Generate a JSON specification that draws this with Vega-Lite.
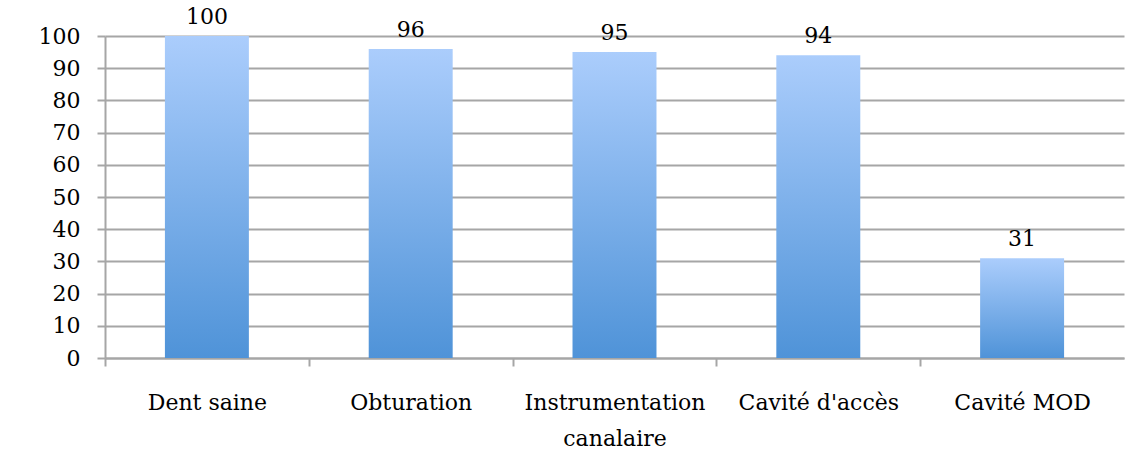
{
  "$schema": "https://vega.github.io/schema/vega-lite/v6.json",
  "width": 1019,
  "height": 322,
  "autosize": {"type": "none"},
  "padding": {"left": 105, "top": 36, "right": 23, "bottom": 114},
  "background": "white",
  "config": {
    "view": {"stroke": null},
    "font": "DejaVu Serif"
  },
  "data": {
    "values": [
      {"categorie": "Dent saine", "valeur": 100},
      {"categorie": "Obturation", "valeur": 96},
      {"categorie": "Instrumentation canalaire", "valeur": 95},
      {"categorie": "Cavité d'accès", "valeur": 94},
      {"categorie": "Cavité MOD", "valeur": 31}
    ]
  },
  "encoding": {
    "x": {
      "field": "categorie",
      "type": "nominal",
      "sort": null,
      "scale": {"paddingInner": 0.588, "paddingOuter": 0.294},
      "axis": {
        "title": null,
        "labelAngle": 0,
        "labelFont": "DejaVu Serif",
        "labelFontSize": 22,
        "labelColor": "black",
        "labelPadding": 26,
        "labelLineHeight": 36,
        "labelLimit": 400,
        "labelExpr": "datum.label == 'Instrumentation canalaire' ? ['Instrumentation', 'canalaire'] : datum.label",
        "ticks": true,
        "bandPosition": 0,
        "tickOffset": -60,
        "labelOffset": 60,
        "tickSize": 8,
        "tickColor": "#a6a6a6",
        "tickWidth": 2,
        "domainColor": "#a6a6a6",
        "domainWidth": 2,
        "grid": false
      }
    },
    "y": {
      "field": "valeur",
      "type": "quantitative",
      "scale": {"domain": [0, 100], "nice": false},
      "axis": {
        "title": null,
        "values": [0, 10, 20, 30, 40, 50, 60, 70, 80, 90, 100],
        "labelFont": "DejaVu Serif",
        "labelFontSize": 22,
        "labelColor": "black",
        "labelPadding": 17,
        "tickSize": 8,
        "tickColor": "#a6a6a6",
        "tickWidth": 2,
        "domainColor": "#a6a6a6",
        "domainWidth": 2,
        "grid": true,
        "gridColor": "#a6a6a6",
        "gridWidth": 2
      }
    }
  },
  "layer": [
    {
      "mark": {
        "type": "bar",
        "color": {
          "gradient": "linear",
          "x1": 0, "y1": 1, "x2": 0, "y2": 0,
          "stops": [
            {"offset": 0, "color": "#4f93d8"},
            {"offset": 1, "color": "#abcdfc"}
          ]
        }
      }
    },
    {
      "mark": {"type": "text", "baseline": "alphabetic", "dy": -12, "fontSize": 22, "font": "DejaVu Serif", "color": "black"},
      "encoding": {"text": {"field": "valeur", "type": "quantitative"}}
    }
  ]
}
